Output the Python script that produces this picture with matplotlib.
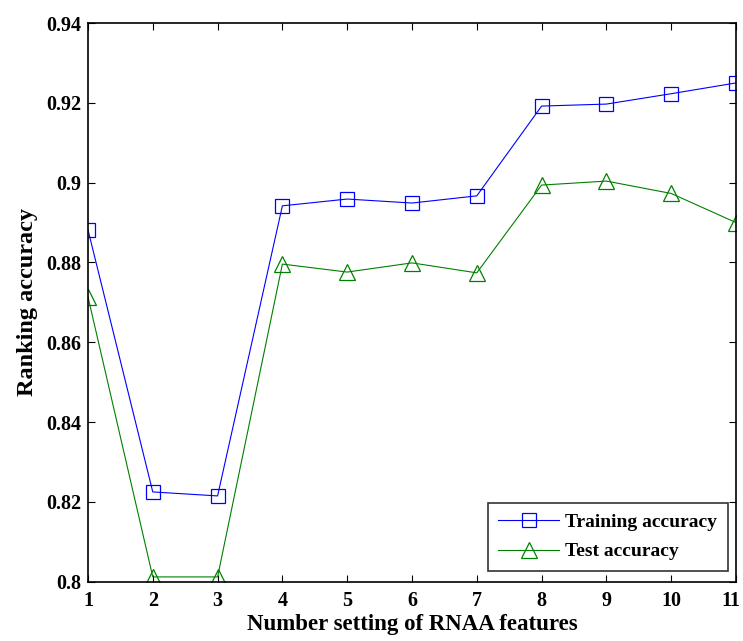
import matplotlib
matplotlib.use("Agg")
import matplotlib.pyplot as plt
from matplotlib.transforms import ScaledTranslation

plt.rcParams['font.family'] = ['Liberation Serif', 'DejaVu Serif']

num_features = [1, 2, 3, 4, 5, 6, 7, 8, 9, 10, 11]
train_acc = [0.8882, 0.8225, 0.8215, 0.8942, 0.8959, 0.8949, 0.8967,
             0.9192, 0.9197, 0.9223, 0.9250]
test_acc = [0.8714, 0.8012, 0.8012, 0.8796, 0.8776, 0.8799, 0.8774,
            0.8994, 0.9004, 0.8973, 0.8900]
yticks = [0.8, 0.82, 0.84, 0.86, 0.88, 0.9, 0.92, 0.94]
ytick_labels = ['0.8', '0.82', '0.84', '0.86', '0.88', '0.9', '0.92', '0.94']

fig = plt.figure(figsize=(7.43, 6.41), dpi=100)
ax = fig.add_axes([0.1184, 0.0925, 0.8722, 0.8715])

ax.plot(num_features, train_acc, color='#0000ff', lw=0.8, marker='s',
        ms=9.5, mfc='none', mec='#0000ff', mew=0.9, label='Training accuracy')
ax.plot(num_features, test_acc, color='#008000', lw=0.8, marker='^',
        ms=11, mfc='none', mec='#008000', mew=0.9, label='Test accuracy')

ax.set_xlim(1, 11)
ax.set_ylim(0.8, 0.94)
ax.set_xticks(num_features)
ax.set_yticks(yticks)
ax.set_yticklabels(ytick_labels)
ax.tick_params(direction='in', top=True, right=True, length=5, width=0.8,
               labelsize=14.5, pad=5)
ax.tick_params(axis='x', pad=7)
for lbl in ax.get_xticklabels() + ax.get_yticklabels():
    lbl.set_fontweight('bold')

# last x label sits right at the figure edge; nudge it inward a little
last = ax.get_xticklabels()[-1]
last.set_transform(last.get_transform() + ScaledTranslation(-0.05, 0, fig.dpi_scale_trans))

for sp in ax.spines.values():
    sp.set_linewidth(1.2)

ax.set_xlabel('Number setting of RNAA features', fontsize=16.5, fontweight='bold', labelpad=2)
ax.set_ylabel('Ranking accuracy', fontsize=17.5, fontweight='bold', labelpad=6)

leg = ax.legend(loc='lower right', fontsize=14, frameon=True, fancybox=False,
                edgecolor='black', borderpad=0.55, handlelength=3.1,
                handletextpad=0.35, labelspacing=0.6, borderaxespad=0,
                bbox_to_anchor=(0.9877, 0.019))
leg.get_frame().set_linewidth(1.2)
for t in leg.get_texts():
    t.set_fontweight('bold')

fig.savefig('out.png', dpi=100)
